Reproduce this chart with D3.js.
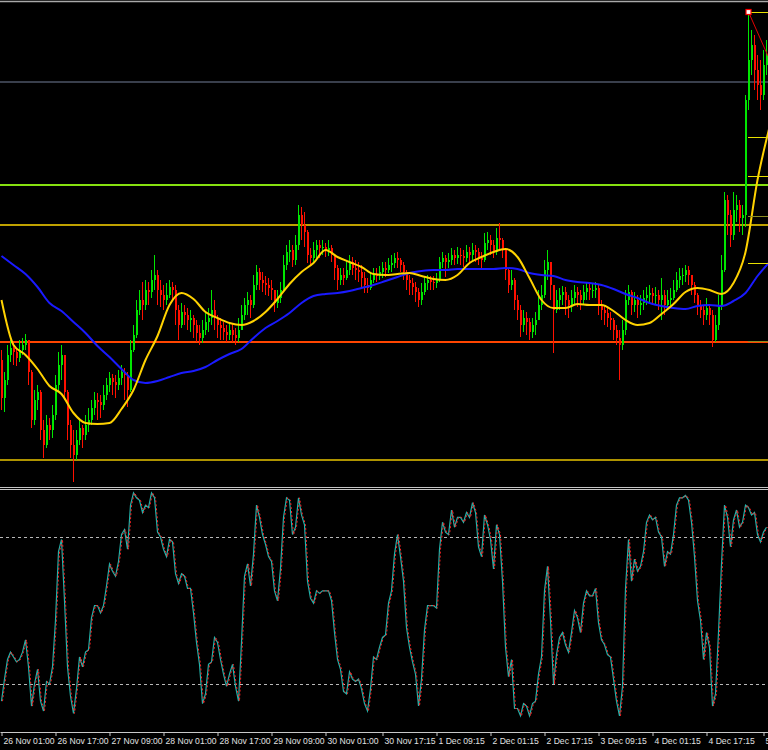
<!DOCTYPE html>
<html><head><meta charset="utf-8">
<script src="https://cdn.jsdelivr.net/npm/d3@7"></script>
<style>html,body{margin:0;padding:0;background:#000;overflow:hidden}svg{display:block}</style>
</head><body><div id="chart"></div>
<script>
// ---------- DATA ----------
const firstOpen = 140;
const closes = [
102,120,145,152,148,142,150,155,160,128,
80,100,108,70,55,75,70,85,115,135,
145,108,75,55,45,60,72,65,75,80,
92,100,98,95,105,115,122,118,115,122,
128,125,110,150,165,190,200,195,210,208,
220,225,210,205,200,205,213,210,190,175,
188,185,180,182,175,167,162,170,178,182,
190,182,175,172,168,165,170,165,162,170,
185,195,200,195,215,228,220,217,215,212,
210,197,202,210,235,248,250,240,255,285,
275,268,245,242,250,255,252,253,250,252,
245,232,220,225,222,230,238,232,230,228,
222,215,212,220,226,224,228,232,230,235,
237,242,240,235,228,220,217,213,208,200,
208,217,220,218,217,220,238,242,238,240,
245,242,245,244,242,248,245,250,248,242,
240,257,260,255,248,262,260,250,230,215,
220,200,190,175,182,178,168,175,180,195,
205,230,238,215,190,200,205,208,200,195,
202,208,205,200,208,212,210,210,212,195,
190,187,182,180,170,162,155,170,200,208,
195,200,195,197,202,205,207,204,205,200,
205,195,200,202,210,220,224,225,230,225,
215,205,195,190,185,192,185,160,175,195,
230,300,285,265,290,295,282,285,400,440,
455,430,415,405,435,445];
const highs = [
150,128,155,160,157,152,160,162,166,160,
130,110,115,110,80,85,82,95,125,148,
155,145,110,80,70,70,82,75,85,92,
100,108,107,105,115,122,128,126,125,130,
135,132,128,160,175,200,210,218,220,218,
230,245,230,220,215,217,220,218,215,195,
197,195,192,190,185,180,175,180,188,192,
210,200,185,182,178,175,178,176,172,182,
195,202,208,205,225,235,232,228,224,222,
220,210,210,218,245,255,260,255,265,295,
293,288,270,252,258,260,260,260,257,260,
255,245,235,232,232,240,245,243,240,238,
235,228,222,228,232,232,234,238,238,242,
245,247,248,242,238,230,225,222,218,212,
217,223,225,224,224,227,243,248,245,247,
252,250,253,252,250,255,253,257,255,252,
248,267,268,265,260,272,277,262,252,232,
230,222,205,195,190,188,182,182,188,210,
215,240,250,238,215,210,212,214,213,205,
210,215,213,210,215,218,217,216,218,215,
200,195,192,188,182,175,170,180,210,215,
210,208,205,205,210,213,215,212,213,210,
222,210,210,212,220,228,232,232,235,234,
225,218,207,200,195,202,195,190,185,205,
245,308,305,290,308,305,300,295,405,488,
470,465,445,440,450,460];
const lows = [
90,88,115,138,135,134,138,145,150,115,
72,75,90,60,42,52,60,62,80,108,
120,100,60,42,18,40,55,52,60,68,
75,85,80,82,90,100,108,105,102,110,
115,100,93,108,148,162,185,180,190,195,
202,210,195,193,190,195,202,200,175,160,
172,175,170,168,162,158,155,157,165,168,
175,170,162,160,160,158,160,158,155,158,
170,180,185,182,192,210,210,208,205,204,
200,188,192,197,208,230,238,233,235,250,
260,253,237,235,238,242,242,245,243,244,
238,220,210,215,215,220,225,225,220,218,
213,207,207,210,217,218,220,222,223,227,
228,232,232,228,220,210,205,205,198,193,
195,205,210,210,210,212,218,232,223,232,
235,235,236,235,233,238,237,240,238,235,
232,238,250,245,242,245,250,242,220,207,
210,190,180,163,168,165,160,162,165,180,
190,202,220,200,147,187,190,195,185,182,
188,195,193,190,195,200,200,202,202,185,
180,175,173,170,160,155,120,150,165,195,
185,188,182,185,190,195,198,195,195,190,
180,185,190,192,200,208,212,215,218,215,
205,197,185,182,175,180,175,153,158,170,
190,228,265,253,260,278,268,265,273,390,
425,410,400,390,400,425];
// moving averages, one value every maStep bars
const maStep = 4;
const maFast = [200,155,145,131,114,106,87,77,76,77,
91,110,140,164,195,207,201,188,182,177,
175,179,188,201,216,228,237,250,243,238,
233,226,225,226,227,224,221,220,225,237,
243,248,251,243,222,200,192,192,196,195,
195,189,180,175,177,186,196,208,212,210,
206,217,248,320,373];
const maSlow = [244,235,226,213,197,189,178,167,154,143,
131,120,117,119,123,127,129,133,140,146,
151,162,172,179,187,197,204,206,207,209,
212,215,219,223,227,229,230,230,231,231,
231,231,232,231,227,225,224,220,218,217,
215,211,206,202,197,194,192,191,194,195,
194,199,207,224,238];
const stochK = [
13,22,30,33,31,29,30,33,38,27,
11,20,26,13,9,21,20,27,46,74,
79,54,27,15,8,18,31,27,33,34,
47,52,52,49,52,60,69,66,64,70,
81,83,75,93,98,96,95,90,93,92,
98,96,82,80,75,72,79,78,65,61,
65,64,59,59,49,37,28,12,16,28,
29,39,37,30,24,19,24,28,19,13,
37,64,69,60,73,93,88,81,77,72,
70,58,54,67,88,96,95,81,84,96,
89,85,62,55,53,58,57,58,58,58,
54,41,30,26,17,16,25,22,21,22,
18,12,9,18,31,30,35,39,40,53,
58,73,81,72,62,43,35,29,24,11,
22,42,52,52,52,51,75,86,82,81,
91,84,88,88,86,90,88,94,90,76,
72,89,85,79,67,85,81,62,35,23,
30,10,10,7,12,11,7,12,13,24,
31,58,68,46,20,32,39,41,36,33,
41,50,47,41,53,58,56,56,59,45,
38,36,32,31,22,13,7,19,59,79,
62,71,66,68,74,86,89,87,88,82,
80,68,74,73,81,93,96,96,97,95,
86,72,54,46,30,41,35,11,16,41,
69,93,88,76,87,91,84,86,93,92,
89,90,81,78,82,84];
const stochLevels = [80, 20];
const levelPrices = [418, 315, 275, 158, 40];
const rightMarkPrices = [488, 363, 324, 284, 237, 159];
const trendBars = [249.5, 256];
const trendPrices = [488, 444];
const markerBar = 249;
const markerPrice = 488;
const xTickBars = [0,18,36,54,72,90,108,127,145,163,181,199,217,235,254];
const xTickLabels = ["26 Nov 01:00","26 Nov 17:00","27 Nov 09:00","28 Nov 01:00","28 Nov 17:00",
"29 Nov 09:00","30 Nov 01:00","30 Nov 17:15","1 Dec 09:15","2 Dec 01:15","2 Dec 17:15",
"3 Dec 09:15","4 Dec 01:15","4 Dec 17:15","5 Dec 09:15"];

// ---------- STYLES ----------
const levelColors = ["#4c5566", "#86e010", "#ffd700", "#ff4500", "#e8c400"];
const levelWidths = [1.5, 2, 1.5, 2, 1.5];
const rightMarkColors = ["#e8e000","#e8e000","#e8e000","#8c8c20","#e8e000","#8c8c20"];
const upColor = "#00e600", downColor = "#ff1000";

// ---------- CHART ----------
const W = 768, H = 750;
const svg = d3.select("#chart").append("svg").attr("width", W).attr("height", H)
  .style("background", "#000");

const nBars = closes.length;
const x = d3.scaleLinear().domain([0, nBars]).range([0, W]);
const y = d3.scaleLinear().domain([15, 500]).range([485, 0]);
const ys = d3.scaleLinear().domain([0, 100]).range([733, 488]);

const defs = svg.append("defs");
defs.append("clipPath").attr("id", "cm").append("rect").attr("x", 0).attr("y", 3).attr("width", W).attr("height", 483);
defs.append("clipPath").attr("id", "cs").append("rect").attr("x", 0).attr("y", 490).attr("width", W).attr("height", 242);

// top border
svg.append("line").attr("x1", 0).attr("x2", W).attr("y1", 1.5).attr("y2", 1.5)
  .attr("stroke", "#a8a8a8").attr("stroke-width", 1.5);

const gm = svg.append("g").attr("clip-path", "url(#cm)");

// horizontal levels
gm.selectAll("line.level").data(levelPrices).join("line").attr("class", "level")
  .attr("x1", 0).attr("x2", W)
  .attr("y1", d => y(d)).attr("y2", d => y(d))
  .attr("stroke", (d, i) => levelColors[i]).attr("stroke-width", (d, i) => levelWidths[i]);

// candles
const candles = closes.map((c, i) => {
  const o = i === 0 ? firstOpen : closes[i - 1];
  return { i, o, c, h: Math.max(highs[i], o, c), l: Math.min(lows[i], o, c) };
});
const cg = gm.append("g").attr("shape-rendering", "crispEdges");
cg.selectAll("rect.wick").data(candles).join("rect").attr("class", "wick")
  .attr("x", d => x(d.i) + 1).attr("width", 1)
  .attr("y", d => y(d.h)).attr("height", d => Math.max(1, y(d.l) - y(d.h)))
  .attr("fill", d => d.c >= d.o ? upColor : downColor);
cg.selectAll("rect.body").data(candles).join("rect").attr("class", "body")
  .attr("x", d => x(d.i) + 0.5).attr("width", 2)
  .attr("y", d => y(Math.max(d.o, d.c))).attr("height", d => Math.max(1, Math.abs(y(d.o) - y(d.c))))
  .attr("fill", d => d.c >= d.o ? upColor : downColor);

// moving averages
const maLine = d3.line().x((d, j) => x(j * maStep + 0.5)).y(d => y(d)).curve(d3.curveMonotoneX);
gm.append("path").attr("d", maLine(maSlow)).attr("fill", "none").attr("stroke", "#1a1aff").attr("stroke-width", 2);
gm.append("path").attr("d", maLine(maFast)).attr("fill", "none").attr("stroke", "#ffd200").attr("stroke-width", 2);

// right-side short marks
gm.selectAll("line.rmark").data(rightMarkPrices).join("line").attr("class", "rmark")
  .attr("x1", x(markerBar) + 1).attr("x2", W)
  .attr("y1", d => Math.round(y(d)) + 0.5).attr("y2", d => Math.round(y(d)) + 0.5)
  .attr("stroke", (d, i) => rightMarkColors[i]).attr("stroke-width", 1);

// trend line
gm.append("line")
  .attr("x1", x(trendBars[0])).attr("y1", y(trendPrices[0]))
  .attr("x2", x(trendBars[1])).attr("y2", y(trendPrices[1]))
  .attr("stroke", "#e00000").attr("stroke-width", 1);
// marker
gm.append("rect").attr("x", x(markerBar + 0.5) - 2.5).attr("y", y(markerPrice) - 2.5)
  .attr("width", 5).attr("height", 5).attr("fill", "#fff").attr("stroke", "#ff0000").attr("stroke-width", 1.2);

// separator
[487.5, 489.5].forEach(yy => svg.append("line").attr("x1", 0).attr("x2", W).attr("y1", yy).attr("y2", yy)
  .attr("stroke", "#c4c4c4").attr("stroke-width", 1));

// stochastic
const gs = svg.append("g").attr("clip-path", "url(#cs)");
gs.selectAll("line.sl").data(stochLevels).join("line").attr("class", "sl")
  .attr("x1", 0).attr("x2", W).attr("y1", d => Math.round(ys(d)) + 0.5).attr("y2", d => Math.round(ys(d)) + 0.5)
  .attr("stroke", "#b8b8b8").attr("stroke-width", 1).attr("stroke-dasharray", "3,3");
const sLine = d3.line().x((d, i) => x(i + 0.5)).y(d => ys(d));
gs.append("path").attr("d", sLine(stochK)).attr("fill", "none").attr("stroke", "#20b2aa").attr("stroke-width", 1.2);
gs.append("path").attr("d", sLine(stochK)).attr("transform", "translate(1,0)").attr("fill", "none")
  .attr("stroke", "#ff2020").attr("stroke-width", 1).attr("stroke-dasharray", "2,2");

// time axis
const axis = d3.axisBottom(x)
  .tickValues(xTickBars.map(b => b + 0.5))
  .tickFormat((d, i) => xTickLabels[i])
  .tickSizeInner(4).tickSizeOuter(0);
const ga = svg.append("g").attr("transform", "translate(0,732)").call(axis);
ga.select(".domain").attr("stroke", "#c8c8c8").attr("stroke-width", 1.2);
ga.selectAll(".tick line").attr("stroke", "#c8c8c8");
ga.selectAll(".tick text").attr("fill", "#e0e0e0").attr("text-anchor", "start")
  .attr("x", 1.5).attr("y", 11.5).attr("dy", 0)
  .style("font-family", "'Liberation Sans', Arial, sans-serif").style("font-size", "8.6px");
</script></body></html>
